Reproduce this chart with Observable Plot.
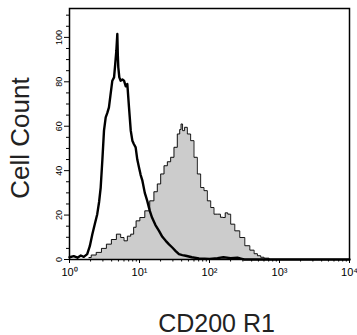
<!DOCTYPE html>
<html>
<head>
<meta charset="utf-8">
<script src="https://cdn.jsdelivr.net/npm/d3@7"></script>
<script src="https://cdn.jsdelivr.net/npm/@observablehq/plot@0.6"></script>
<style>
  html, body { margin: 0; padding: 0; background: #fff; }
  #chart svg { display: block; }
</style>
</head>
<body>
<div id="chart"></div>
<script>
// Isotype control (black outline) – fluorescence intensity and cell count
const isoX = [1, 1.15, 1.3, 1.45, 1.6, 1.79, 1.95, 2.12, 2.3, 2.49, 2.65, 2.79, 2.95, 3.11, 3.29, 3.47, 3.66, 3.85, 4.09, 4.33, 4.5, 4.67, 4.82, 4.9, 4.98, 5.15, 5.38, 5.7, 6.01, 6.35, 6.7, 7.08, 7.5, 7.91, 8.3, 8.81, 9.3, 9.84, 10.4, 11.0, 11.9, 12.9, 14.0, 15.1, 16.9, 19.0, 21.2, 23.7, 26.4, 29.4, 32.9, 36.6, 40.9, 45.7, 56, 70.8, 85, 100, 130, 158, 200, 251, 290, 316, 400, 10000];
const isoY = [1, 1.5, 0.8, 1.8, 1.2, 2.4, 6, 11.4, 16, 20.4, 26, 32.4, 45, 58, 64, 66, 68.5, 74, 80.5, 82, 88, 94, 101.5, 92, 86.5, 82, 80.5, 81, 80.5, 78, 79, 68.5, 58, 53.5, 52, 50.5, 45, 41.4, 38, 35.5, 30, 26.4, 22, 18.9, 15.5, 12.9, 10.2, 8.4, 6.8, 5.4, 3.8, 2.4, 2.0, 1.7, 1.0, 0.5, 0.4, 0.3, 0.6, 1.0, 0.6, 0.8, 0.3, 0, 0, 0];

// CD200 R1 stained (grey filled)
const cdX = [1.9, 2.2, 2.64, 3.1, 3.66, 4.3, 5.09, 5.69, 6.34, 7.1, 7.91, 8.6, 9.31, 11.0, 12.9, 15.2, 17.0, 19.0, 21.2, 23.7, 26.4, 29.4, 32.9, 36.6, 38.5, 40.0, 42.5, 45.7, 50.9, 56.8, 63.4, 70.8, 78.9, 88.1, 98.4, 110, 122, 137, 150, 161, 175, 190, 212, 249, 294, 347, 409, 460, 509, 570, 634, 794];
const cdY = [0.9, 2.0, 3.2, 5.0, 6.9, 9.0, 11.4, 9.9, 8.4, 10.5, 11.4, 14.5, 17.4, 18.9, 21.9, 26.4, 30.5, 34, 38.5, 42.2, 44, 46, 50.5, 56.5, 58.5, 61, 58, 59.5, 56.5, 53.5, 46, 38.5, 32.4, 31, 26.4, 23.4, 20.4, 20.4, 19, 18.9, 21, 20.4, 15.9, 12.9, 9.9, 6.2, 4.2, 2.6, 1.7, 1.0, 0.6, 0];

const xDomain = [1, 10000];
const yDomain = [0, 113];
const majorTicksX = [1, 10, 100, 1000, 10000];
const majorLabelsX = ["10\u2070", "10\u00B9", "10\u00B2", "10\u00B3", "10\u2074"];
const minorTicksX = [2,3,4,5,6,7,8,9,20,30,40,50,60,70,80,90,200,300,400,500,600,700,800,900,2000,3000,4000,5000,6000,7000,8000,9000];
const majorTicksY = [0, 20, 40, 60, 80, 100];
const minorTicksY = [5,10,15,25,30,35,45,50,55,65,70,75,85,90,95,105,110];
const xTitle = "CD200 R1";
const yTitle = "Cell Count";

const iso = isoX.map((x, i) => ({x, y: isoY[i]}));
const cd = cdX.map((x, i) => ({x, y: cdY[i]}));

const chart = Plot.plot({
  width: 357,
  height: 335,
  marginTop: 8,
  marginRight: 8,
  marginBottom: 76,
  marginLeft: 69,
  style: "font-family: 'Liberation Sans', Arial, sans-serif;",
  x: {type: "log", domain: xDomain},
  y: {domain: yDomain},
  marks: [
    Plot.areaY(cd, {x: "x", y: "y", fill: "#cccccc", curve: "step"}),
    Plot.line(cd, {x: "x", y: "y", stroke: "black", strokeWidth: 0.9, curve: "step"}),
    Plot.line(iso, {x: "x", y: "y", stroke: "black", strokeWidth: 2.4, curve: "linear"}),
    Plot.axisX(majorTicksX, {tickSize: 4, tickPadding: 5, fontSize: 11, label: null,
      tickFormat: (d) => majorLabelsX[majorTicksX.indexOf(d)]}),
    Plot.axisX(minorTicksX, {tickSize: 2.5, tickFormat: () => "", label: null}),
    Plot.axisY(majorTicksY, {tickSize: 5, tickPadding: 3, tickRotate: -90, fontSize: 9, label: null}),
    Plot.axisY(minorTicksY, {tickSize: 3, tickFormat: () => "", label: null}),
    Plot.text([yTitle], {frameAnchor: "left", textAnchor: "middle", lineAnchor: "middle", dx: -49, dy: 4, rotate: -90, fontSize: 26, fill: "#222"}),
    Plot.text([xTitle], {frameAnchor: "bottom", textAnchor: "middle", lineAnchor: "middle", dx: 7, dy: 64, fontSize: 25, fill: "#222"}),
    Plot.frame({stroke: "black", strokeWidth: 1.5})
  ]
});
document.getElementById("chart").appendChild(chart);
</script>
</body>
</html>
